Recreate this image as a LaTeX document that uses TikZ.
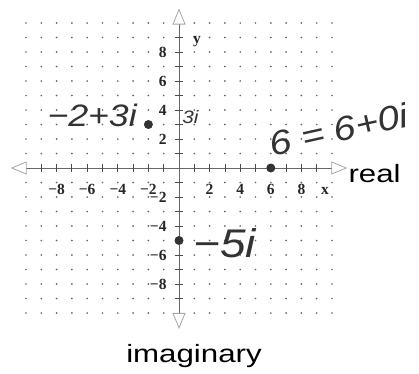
\documentclass[tikz,border=0pt]{standalone}
\usepackage{fontspec}
\usepackage{xcolor}
\usepackage{tikz}
\usetikzlibrary{arrows.meta,positioning}

\newfontfamily\wordfont[FakeStretch=1.25]{Liberation Sans}
\newfontfamily\handfont[FakeStretch=1.15]{Liberation Sans}
\newfontfamily\numfont{Liberation Serif}

\begin{document}
\begin{tikzpicture}[x=15.3pt, y=14.5pt,
  griddot/.style={fill=black!60},
  axis/.style={draw=black!60, line width=0.9pt, <->,
    >={Triangle[open, length=16pt, width=13pt, line width=0.8pt, color=black!35]}},
  tick/.style={draw=black!70, line width=0.8pt},
  num/.style={font=\numfont\bfseries\fontsize{15.5}{15.5}\selectfont, text=black!85, inner sep=0pt},
  word/.style={font=\wordfont\fontsize{25}{25}\selectfont, inner sep=0pt},
  hand/.style={font=\handfont\itshape\fontsize{#1}{#1}\selectfont, text=black!80, inner sep=0pt},
  point/.style={circle, fill=black!80, inner sep=0pt, minimum size=9pt}]

  \useasboundingbox (-179pt,-205pt) rectangle (240pt,168pt);

  % dotted grid
  \foreach \i in {-10,...,-1,1,2,...,10}
    \foreach \j in {-10,...,-1,1,2,...,10}
      \fill[griddot] (\i,\j) circle (0.95pt);

  \coordinate (xmin) at (-11,0);
  \coordinate (xmax) at (11,0);
  \coordinate (ymin) at (0,-11.1);
  \coordinate (ymax) at (0,11);

  \draw[axis] (xmin) -- (xmax);
  \draw[axis] (ymin) -- (ymax);

  \foreach \i in {-9,...,-1,1,2,...,9} {
    \draw[tick] (\i,-0.28) -- (\i,0.28);
    \draw[tick] (-0.27,\i) -- (0.27,\i);
  }

  % axis numbers
  \foreach \i/\t [count=\k] in {-8/−8,-6/−6,-4/−4,-2/−2,2/2,4/4,6/6,8/8} {
    \node[num, anchor=base] (xl\k) at (\i,-1.86) {\t};
    \node[num, anchor=east] (yl\k) at (-0.8,\i) {\t};
  }
  \node[num, anchor=base] (xname) at (9.55,-1.86) {x};
  \node[num, anchor=base] (yname) at (1.18,8.62) {y};

  \node[word, right=1pt of xmax, yshift=-6pt] (real) {real};
  \node[word, below=15pt of ymin, xshift=15pt] (imag) {imaginary};

  % plotted numbers
  \node[point] (p1) at (-2,3) {};
  \node[point] (p2) at (6,0) {};
  \node[point] (p3) at (0,-5) {};

  \node[hand=31, anchor=base east] (l1) at (-2.75,2.83) {−2+3i};
  \node[hand=18, anchor=base west] (l3i) at (0.2,3.1) {3i};
  \node[hand=34, anchor=base west, rotate=12.5] (l2) at (6.08,0.76) {6 = 6+0i};
  \node[hand=40, anchor=base west] (l3) at (0.92,-6.2) {−5i};
\end{tikzpicture}
\end{document}
